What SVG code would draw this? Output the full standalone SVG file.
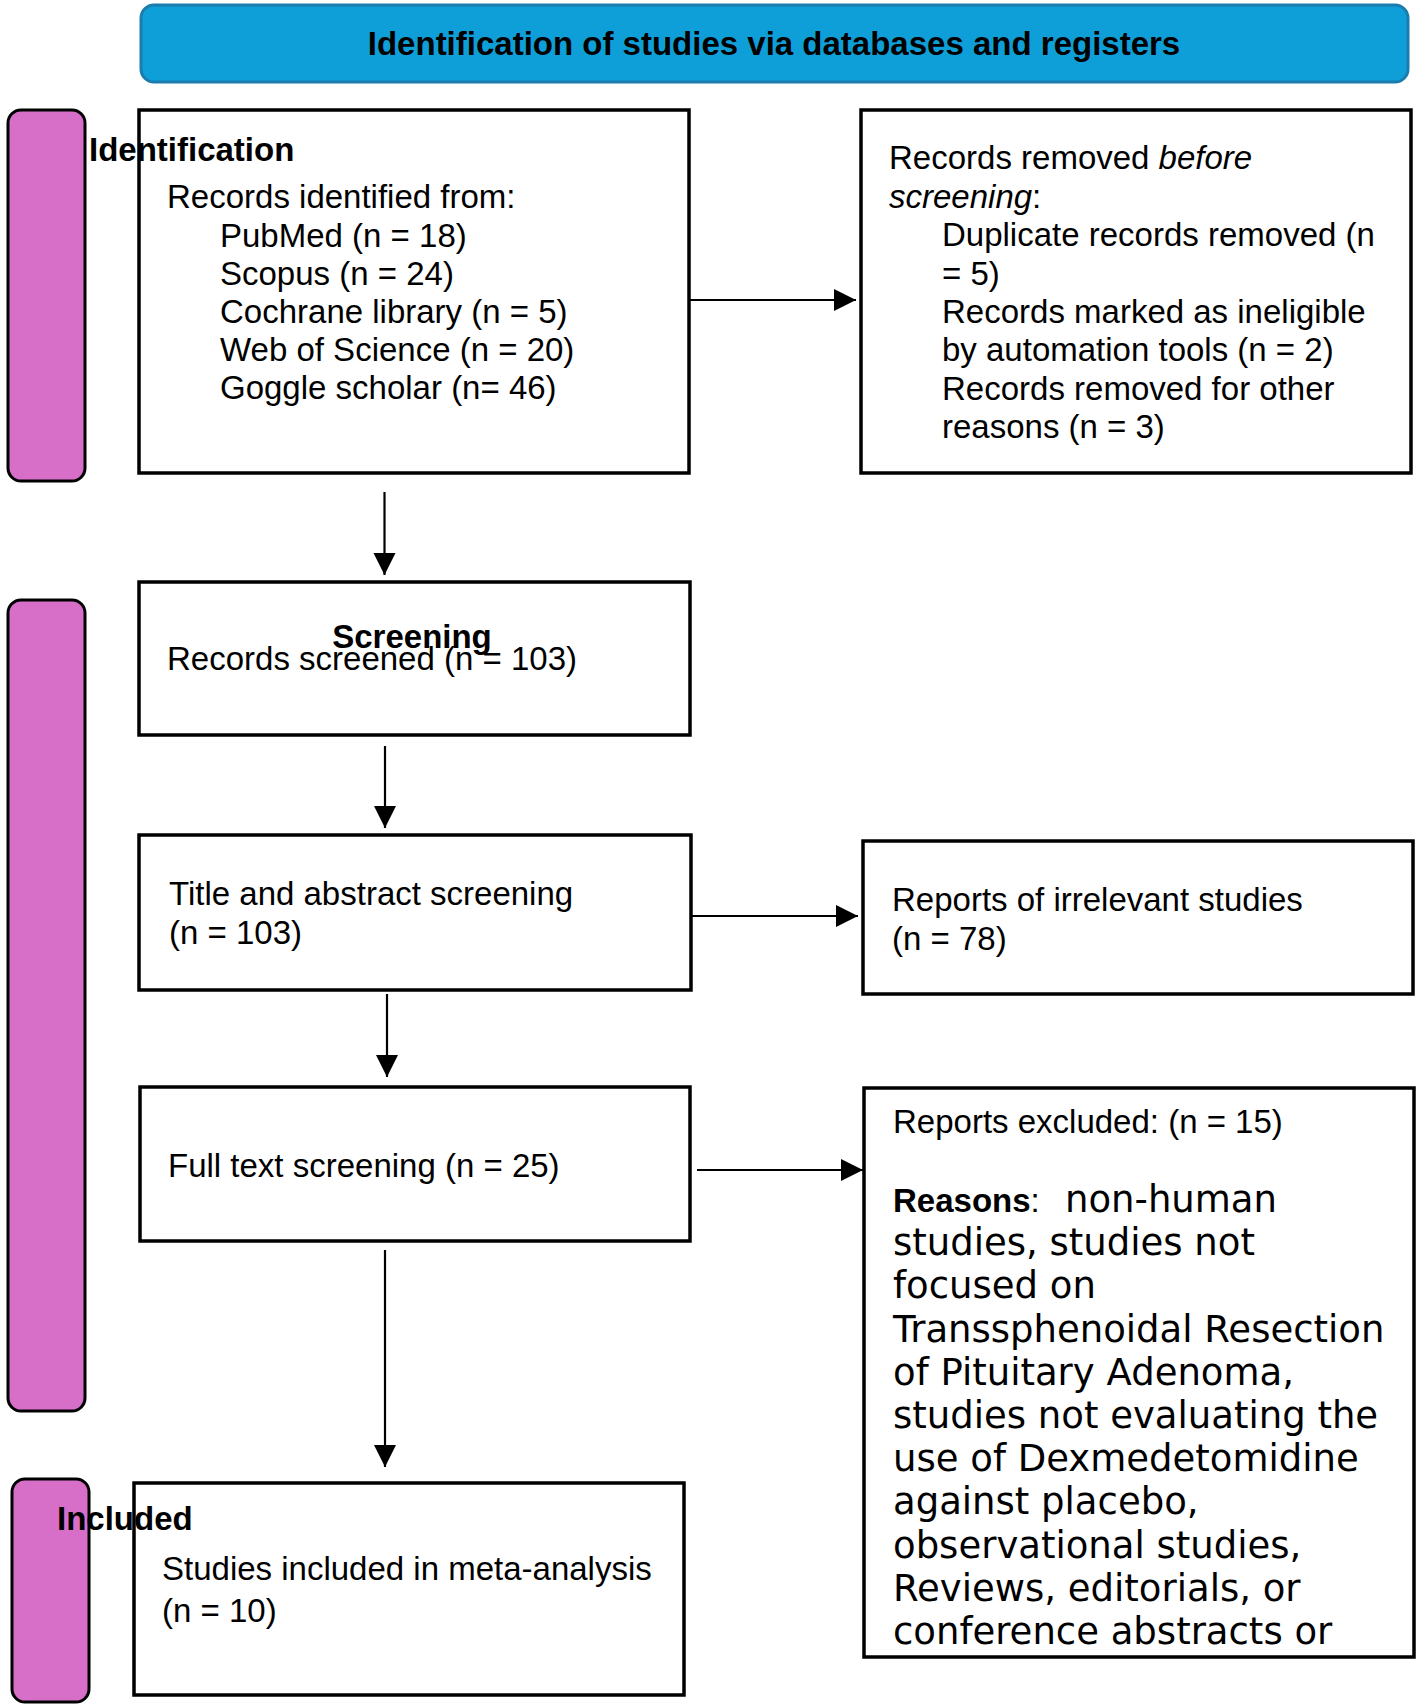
<svg xmlns="http://www.w3.org/2000/svg" width="1417" height="1708" viewBox="0 0 1417 1708">
<style>
  .box{fill:#fff;stroke:#000;stroke-width:3.5}
  .bar{fill:#D76FC9;stroke:#000;stroke-width:3}
  .t{font-family:"Liberation Sans",Arial,sans-serif;font-size:33px;fill:#000}
  .b{font-family:"Liberation Sans",Arial,sans-serif;font-size:33px;font-weight:bold;fill:#000}
  .d{font-family:"DejaVu Sans",sans-serif;font-size:37px;fill:#000}
  .conn line{stroke:#000;stroke-width:2.2}
</style>
<defs>
  <marker id="ah" markerUnits="userSpaceOnUse" markerWidth="24" markerHeight="24" refX="22" refY="11" orient="auto">
    <path d="M0,0 L22,11 L0,22 z" fill="#000"/>
  </marker>
</defs>
<rect width="1417" height="1708" fill="#fff"/>

<g id="banner">
  <rect x="141" y="5" width="1267" height="77" rx="13" fill="#0F9FD8" stroke="#1A7DAE" stroke-width="3"/>
  <text class="b" x="774" y="55" text-anchor="middle">Identification of studies via databases and registers</text>
</g>

<g id="bar-identification">
  <rect class="bar" x="8" y="110" width="77" height="371" rx="13"/>
</g>
<g id="bar-screening">
  <rect class="bar" x="8" y="600" width="77" height="811" rx="13"/>
</g>
<g id="bar-included">
  <rect class="bar" x="12" y="1479" width="77" height="223" rx="13"/>
</g>

<g id="conn" class="conn">
  <line x1="689" y1="300" x2="856" y2="300" marker-end="url(#ah)"/>
  <line x1="384.5" y1="492" x2="384.5" y2="575" marker-end="url(#ah)"/>
  <line x1="385" y1="746" x2="385" y2="828" marker-end="url(#ah)"/>
  <line x1="691" y1="916" x2="858" y2="916" marker-end="url(#ah)"/>
  <line x1="387" y1="994" x2="387" y2="1077" marker-end="url(#ah)"/>
  <line x1="697" y1="1170" x2="863" y2="1170" marker-end="url(#ah)"/>
  <line x1="385" y1="1250" x2="385" y2="1467" marker-end="url(#ah)"/>
</g>

<g id="records-identified">
  <rect class="box" x="139" y="110" width="550" height="363"/>
  <text class="t" x="167" y="208">Records identified from:</text>
  <text class="t" x="220" y="247">PubMed (n = 18)</text>
  <text class="t" x="220" y="285">Scopus (n = 24)</text>
  <text class="t" x="220" y="323">Cochrane library (n = 5)</text>
  <text class="t" x="220" y="361">Web of Science (n = 20)</text>
  <text class="t" x="220" y="399">Goggle scholar (n= 46)</text>
</g>
<text class="b" x="89" y="161">Identification</text>

<g id="records-removed">
  <rect class="box" x="861" y="110" width="550" height="363"/>
  <text class="t" x="889" y="169">Records removed <tspan font-style="italic">before</tspan></text>
  <text class="t" x="889" y="208"><tspan font-style="italic">screening</tspan>:</text>
  <text class="t" x="942" y="246">Duplicate records removed (n</text>
  <text class="t" x="942" y="285">= 5)</text>
  <text class="t" x="942" y="323">Records marked as ineligible</text>
  <text class="t" x="942" y="361">by automation tools (n = 2)</text>
  <text class="t" x="942" y="400">Records removed for other</text>
  <text class="t" x="942" y="438">reasons (n = 3)</text>
</g>

<g id="records-screened">
  <rect class="box" x="139" y="582" width="551" height="153"/>
  <text class="t" x="167" y="670">Records screened (n = 103)</text>
</g>
<text class="b" x="412" y="648" text-anchor="middle">Screening</text>

<g id="title-abstract">
  <rect class="box" x="139" y="835" width="552" height="155"/>
  <text class="t" x="169" y="905">Title and abstract screening</text>
  <text class="t" x="169" y="944">(n = 103)</text>
</g>

<g id="irrelevant">
  <rect class="box" x="863" y="841" width="550" height="153"/>
  <text class="t" x="892" y="911">Reports of irrelevant studies</text>
  <text class="t" x="892" y="950">(n = 78)</text>
</g>

<g id="full-text">
  <rect class="box" x="140" y="1087" width="550" height="154"/>
  <text class="t" x="168" y="1177">Full text screening (n = 25)</text>
</g>

<g id="excluded">
  <rect class="box" x="864" y="1088" width="550" height="569"/>
  <text class="t" x="893" y="1133">Reports excluded: (n = 15)</text>
  <text class="t" x="893" y="1212"><tspan font-weight="bold">Reasons</tspan>:</text>
  <text class="d" x="1065" y="1212">non-human</text>
  <text class="d" x="893" y="1255">studies, studies not</text>
  <text class="d" x="893" y="1298">focused on</text>
  <text class="d" x="893" y="1342">Transsphenoidal Resection</text>
  <text class="d" x="893" y="1385">of Pituitary Adenoma,</text>
  <text class="d" x="893" y="1428">studies not evaluating the</text>
  <text class="d" x="893" y="1471">use of Dexmedetomidine</text>
  <text class="d" x="893" y="1514">against placebo,</text>
  <text class="d" x="893" y="1558">observational studies,</text>
  <text class="d" x="893" y="1601">Reviews, editorials, or</text>
  <text class="d" x="893" y="1644">conference abstracts or</text>
</g>

<g id="included">
  <rect class="box" x="134" y="1483" width="550" height="212"/>
  <text class="t" x="162" y="1580">Studies included in meta-analysis</text>
  <text class="t" x="162" y="1622">(n = 10)</text>
</g>
<text class="b" x="57" y="1530">Included</text>
</svg>
